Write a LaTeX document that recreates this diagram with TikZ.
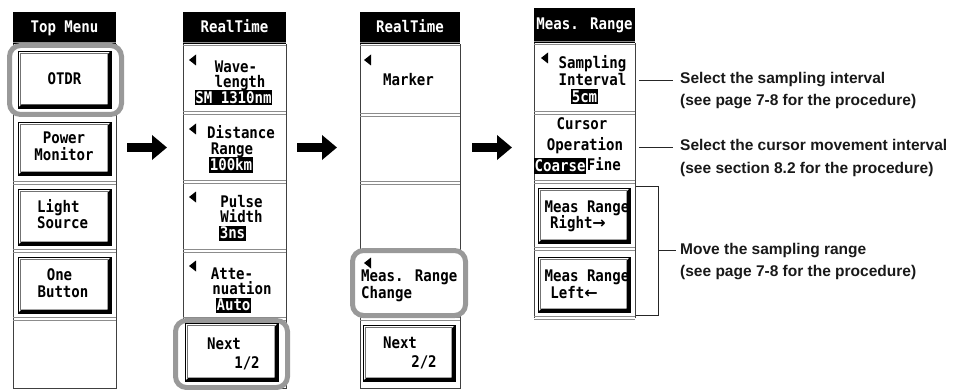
\documentclass[tikz,border=0pt]{standalone}
\usepackage{fontspec}
\setmainfont{Liberation Sans}
\newfontfamily\lcdfont[FakeStretch=0.88]{DejaVu Sans Mono}
\newfontfamily\arrfont{DejaVu Sans}
\usetikzlibrary{arrows.meta}
\newcommand\sepat[3]{%
  \draw[sepline] ({#1},{#3-1.3}) -- ({#2},{#3-1.3});
  \draw[sepline] ({#1},{#3+1.3}) -- ({#2},{#3+1.3});}
\newcommand\kbtn[4]{%
  \draw[black, line width=0.8pt, fill=white] (#1,#2) rectangle (#3,#4);
  \draw[black!55, line width=0.6pt] ({#1+2.5},{#4-3}) -- ({#1+2.5},{#2+2.5}) -- ({#3-3},{#2+2.5});
  \fill[black] (#3,#2) -- (#3,#4) -- (#1,#4) -- ({#1+3.5},{#4-3.5}) -- ({#3-3.5},{#4-3.5}) -- ({#3-3.5},{#2+3.5}) -- cycle;}
\newcommand\ltri[2]{%
  \fill[black] (#1,#2) -- ({#1+7},{#2-5.5}) -- ({#1+7},{#2+5.5}) -- cycle;}
\begin{document}
\begin{tikzpicture}[x=1pt,y=-1pt,
  lcd/.style={font=\lcdfont\bfseries\fontsize{16}{15}\selectfont, inner sep=0pt, text height=12pt, text depth=3.5pt},
  inv/.style={lcd, fill=black, text=white, inner xsep=0.5pt, inner ysep=0pt, text height=12.6pt, text depth=2.4pt},
  hdrtext/.style={lcd, text=white},
  frame/.style={draw=black!75, line width=0.8pt},
  sepline/.style={draw=black!45, line width=0.7pt},
  hilite/.style={draw=black!40, line width=5pt, rounded corners=11pt, fill=white},
  note/.style={font=\bfseries\fontsize{15.5}{22}\selectfont, text=black!90, anchor=west, inner sep=0pt, text height=11pt, text depth=3pt},
  leader/.style={draw=black!85, line width=0.8pt},
  bigarrow/.style={line width=9pt, -{Triangle[length=15pt,width=24pt]}}
]
\useasboundingbox (0,0) rectangle (965,390);

% ---------- column 1 ----------
\fill[black] (13,12) rectangle (116,44);
\draw[frame] (13,44) -- (13,388) -- (116,388) -- (116,44);
\sepat{13}{116}{44}\sepat{13}{116}{183}\sepat{13}{116}{251}\sepat{13}{116}{319}
% ---------- column 2 ----------
\fill[black] (183,12) rectangle (286,44);
\draw[frame] (183,44) -- (183,388) -- (286,388) -- (286,44);
\sepat{183}{286}{44}\sepat{183}{286}{113}\sepat{183}{286}{182}\sepat{183}{286}{251}\sepat{183}{286}{319}
% ---------- column 3 ----------
\fill[black] (360,12) rectangle (460,44);
\draw[frame] (360,44) -- (360,388) -- (460,388) -- (460,44);
\sepat{360}{460}{44}\sepat{360}{460}{115}\sepat{360}{460}{183}\sepat{360}{460}{251}\sepat{360}{460}{319}
% ---------- column 4 ----------
\fill[black] (534,8) rectangle (635,43);
\draw[frame] (534,43) -- (534,318);
\draw[frame] (635,43) -- (635,318);
\sepat{534}{635}{43}\sepat{534}{635}{113}\sepat{534}{635}{182}\sepat{534}{635}{249}\sepat{534}{635}{318}

% ---------- highlights ----------
\draw[hilite] (9.5,45.5) rectangle (121.5,114.5);
\draw[hilite] (175.5,320.5) rectangle (287.5,387.5);
\draw[hilite] (352.5,250.5) rectangle (465.5,315.5);

% ---------- column 1 content ----------
\node[hdrtext] (h1) at (64.5,28) {Top Menu};
\kbtn{18}{51}{111}{108}
\node[lcd] (otdr) at (64.5,80) {OTDR};
\kbtn{18}{122}{111}{175}
\node[lcd] (pm1) at (64,139) {Power};
\node[lcd] (pm2) at (64,156) {Monitor};
\kbtn{18}{189}{111}{245}
\node[lcd, anchor=west] (ls1) at (37,208) {Light};
\node[lcd, anchor=west] (ls2) at (37,224) {Source};
\kbtn{18}{257}{111}{313}
\node[lcd] (ob1) at (59.5,276) {One};
\node[lcd] (ob2) at (63,293) {Button};

% ---------- column 2 content ----------
\node[hdrtext] (h2) at (234.5,28) {RealTime};
\ltri{189}{60}\ltri{189}{129}\ltri{189}{197}\ltri{189}{266}
\node[lcd] (wl1) at (236,68) {Wave-};
\node[lcd] (wl2) at (240,83) {length};
\node[inv] (wl3) at (233.5,98) {SM 1310nm};
\node[lcd] (dr1) at (241,134) {Distance};
\node[lcd] (dr2) at (232,150) {Range};
\node[inv] (dr3) at (231,165) {100km};
\node[lcd] (pw1) at (241.5,203) {Pulse};
\node[lcd] (pw2) at (241.5,218) {Width};
\node[inv] (pw3) at (232.5,233) {3ns};
\node[lcd] (at1) at (232,275) {Atte-};
\node[lcd] (at2) at (242,290) {nuation};
\node[inv] (at3) at (233.5,305) {Auto};
\kbtn{185}{323}{278}{381}
\node[lcd] (nx1a) at (224,345) {Next};
\node[lcd] (nx1b) at (247,364) {1/2};

% ---------- column 3 content ----------
\node[hdrtext] (h3) at (410,28) {RealTime};
\ltri{364}{60}
\node[lcd] (mk) at (408.5,81) {Marker};
\ltri{364}{263}
\node[lcd, anchor=west] (mr1) at (361,277) {Meas. Range};
\node[lcd, anchor=west] (mr2) at (361,294) {Change};
\kbtn{363}{325}{455}{381}
\node[lcd] (nx2a) at (400,344) {Next};
\node[lcd] (nx2b) at (424,363) {2/2};

% ---------- column 4 content ----------
\node[hdrtext] (h4) at (584.5,25) {Meas. Range};
\ltri{541}{58}
\node[lcd] (si1) at (592.5,64) {Sampling};
\node[lcd] (si2) at (592.5,81) {Interval};
\node[inv] (si3) at (584.5,97) {5cm};
\node[lcd] (co1) at (582,125) {Cursor};
\node[lcd] (co2) at (585,146) {Operation};
\node[inv, anchor=west] (co3) at (534,166) {Coarse};
\node[lcd, anchor=west] (co4) at ([xshift=0.5pt]co3.east) {Fine};
\kbtn{538}{188}{630}{243}
\node[lcd] (rr1) at (587,208) {Meas Range};
\node[lcd] (rr2) at (578,224) {Right{\arrfont\bfseries →}};
\kbtn{538}{257}{630}{312}
\node[lcd] (rl1) at (587,277) {Meas Range};
\node[lcd] (rl2) at (574,294) {Left{\arrfont\bfseries ←}};

% ---------- notes ----------
\node[note] (n1a) at (680,80) {Select the sampling interval};
\node[note] (n1b) at (680,102) {(see page 7-8 for the procedure)};
\node[note] (n2a) at (680,147) {Select the cursor movement interval};
\node[note] (n2b) at (680,169) {(see section 8.2 for the procedure)};
\node[note] (n3a) at (680,250) {Move the sampling range};
\node[note] (n3b) at (680,272) {(see page 7-8 for the procedure)};

\coordinate (l1s) at (639,80);
\coordinate (l2s) at (639,147);
\draw[leader] (l1s) -- ([xshift=-7pt]n1a.west);
\draw[leader] (l2s) -- ([xshift=-7pt]n2a.west);
\coordinate (bt) at (635.5,186);
\coordinate (bb) at (635.5,315);
\coordinate (bm) at (658,250);
\draw[leader] (bt) -- (bt -| bm) -- (bb -| bm) -- (bb);
\draw[leader] (bm) -- ([xshift=-4pt]n3a.west);

% ---------- arrows ----------
\coordinate (a1s) at (127,147.5); \coordinate (a1e) at (167,147.5);
\coordinate (a2s) at (297,147.5); \coordinate (a2e) at (337,147.5);
\coordinate (a3s) at (472,147.5); \coordinate (a3e) at (512,147.5);
\draw[bigarrow] (a1s) -- (a1e);
\draw[bigarrow] (a2s) -- (a2e);
\draw[bigarrow] (a3s) -- (a3e);
\end{tikzpicture}
\end{document}
